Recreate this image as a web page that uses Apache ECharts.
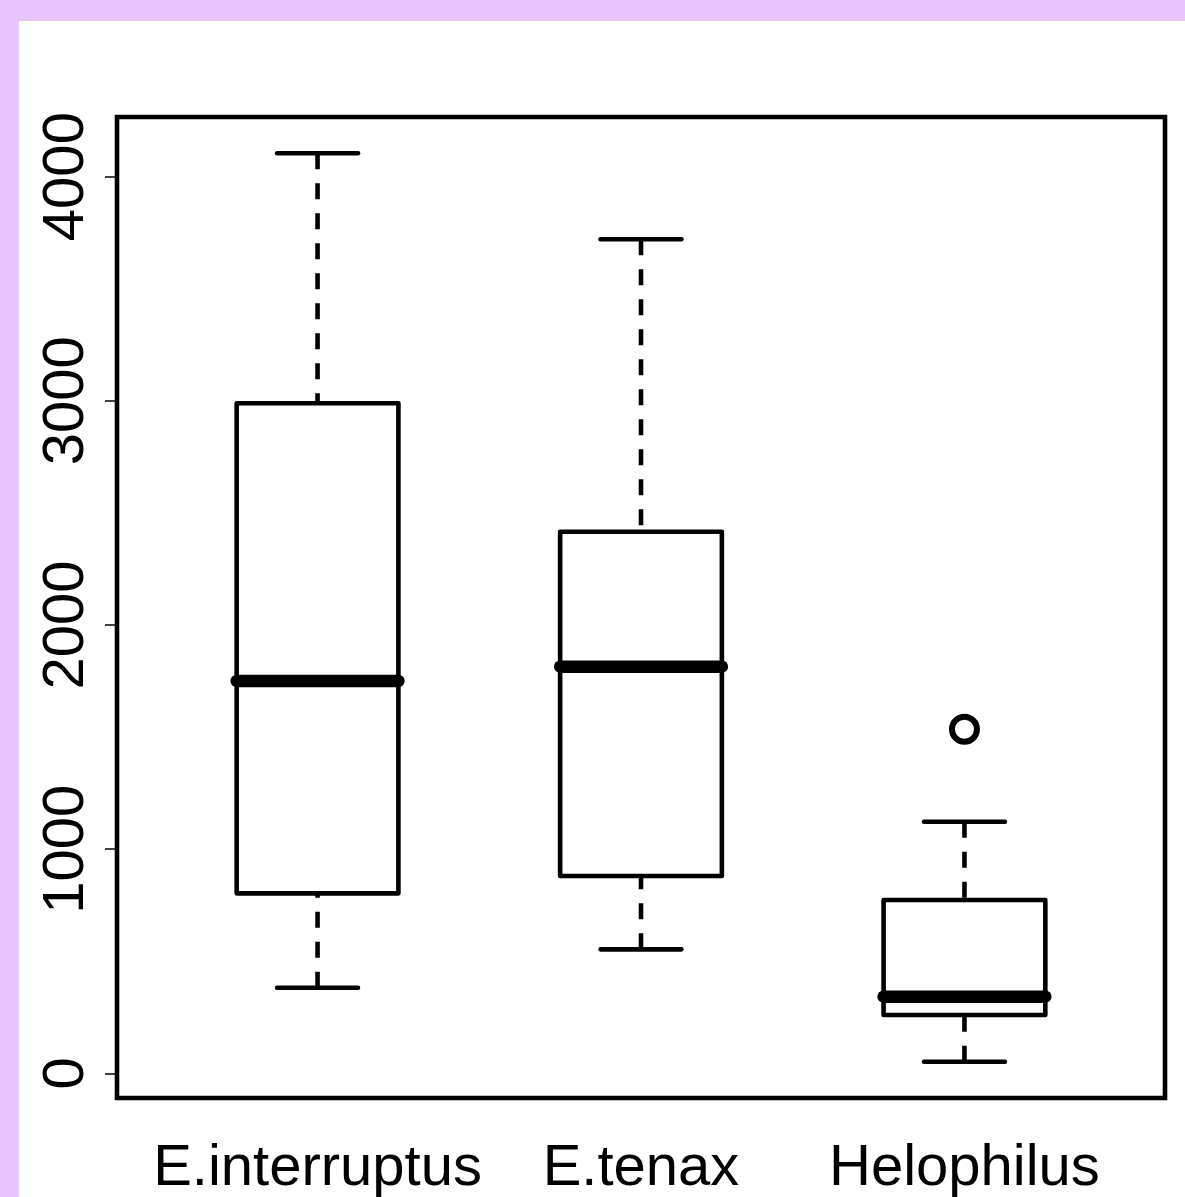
<!DOCTYPE html>
<html>
<head>
<meta charset="utf-8">
<script src="https://cdn.jsdelivr.net/npm/echarts@6/dist/echarts.min.js"></script>
<style>
html,body{margin:0;padding:0;background:#EAC4FC;}
#c{width:1185px;height:1197px;}
</style>
</head>
<body>
<div id="c"></div>
<script>
// ---- data ----
const categories = ['E.interruptus', 'E.tenax', 'Helophilus'];
const whiskerLow  = [382, 553, 52];
const quartile1   = [803, 880, 260];
const medians     = [1750, 1814, 342];
const quartile3   = [2989, 2416, 773];
const whiskerHigh = [4104, 3721, 1122];
const outlierGroup = [3];
const outlierValue = [1535];
const yTickValues = [0, 1000, 2000, 3000, 4000];
const xTickValues = [1, 2, 3];

const boxData = categories.map((c, i) => [i + 1, whiskerLow[i], quartile1[i], medians[i], quartile3[i], whiskerHigh[i]]);
const outlierData = outlierGroup.map((g, i) => [g, outlierValue[i]]);

const FONT = "'Liberation Sans', Arial, Helvetica, sans-serif";
const LW = 4.6;

function renderItem(params, api) {
  const x = api.value(0);
  const lo = api.coord([x, api.value(1)]);
  const q1 = api.coord([x, api.value(2)]);
  const md = api.coord([x, api.value(3)]);
  const q3 = api.coord([x, api.value(4)]);
  const hi = api.coord([x, api.value(5)]);
  const halfBox = api.size([0.5, 0], [x, 0])[0] / 2;
  const halfCap = api.size([0.25, 0], [x, 0])[0] / 2;
  const cx = lo[0];
  const dashStyle = {stroke: '#000', lineWidth: LW, lineDash: [16, 14], lineCap: 'butt', fill: null};
  const capStyle = {stroke: '#000', lineWidth: LW, lineCap: 'round', fill: null};
  return {
    type: 'group',
    children: [
      {type: 'line', shape: {x1: cx, y1: hi[1], x2: cx, y2: q3[1]}, style: dashStyle},
      {type: 'line', shape: {x1: cx, y1: lo[1], x2: cx, y2: q1[1]}, style: dashStyle},
      {type: 'line', shape: {x1: cx - halfCap, y1: hi[1], x2: cx + halfCap, y2: hi[1]}, style: capStyle},
      {type: 'line', shape: {x1: cx - halfCap, y1: lo[1], x2: cx + halfCap, y2: lo[1]}, style: capStyle},
      {type: 'rect', shape: {x: cx - halfBox, y: q3[1], width: 2 * halfBox, height: q1[1] - q3[1]},
        style: {stroke: '#000', lineWidth: LW, fill: '#fff', lineJoin: 'round'}},
      {type: 'line', shape: {x1: cx - halfBox, y1: md[1], x2: cx + halfBox, y2: md[1]},
        style: {stroke: '#000', lineWidth: 12.5, lineCap: 'round', fill: null}}
    ]
  };
}

const chart = echarts.init(document.getElementById('c'), null, {renderer: 'canvas'});
chart.setOption({
  animation: false,
  backgroundColor: '#EAC4FC',
  graphic: [{
    type: 'rect', z: -10, silent: true,
    shape: {x: 19, y: 21, width: 1166, height: 1176},
    style: {fill: '#ffffff'}
  }],
  grid: {
    left: 117, top: 117, right: 20, bottom: 99,
    containLabel: false, outerBoundsMode: 'none',
    show: true, borderColor: '#000', borderWidth: LW, backgroundColor: 'transparent'
  },
  xAxis: {
    type: 'value', min: 0.38, max: 3.62,
    axisLine: {show: false},
    axisTick: {show: false},
    splitLine: {show: false},
    axisLabel: {
      customValues: xTickValues,
      formatter: v => categories[Math.round(v) - 1],
      fontFamily: FONT, fontSize: 58, lineHeight: 58, color: '#000', margin: 42
    }
  },
  yAxis: {
    type: 'value', min: -110, max: 4266,
    axisLine: {show: false},
    splitLine: {show: false},
    axisTick: {show: true, customValues: yTickValues, length: 12, lineStyle: {color: '#000', width: 1.5}},
    axisLabel: {
      customValues: yTickValues,
      formatter: v => String(v),
      rotate: 90,
      fontFamily: FONT, fontSize: 58, lineHeight: 58, color: '#000', margin: 21
    }
  },
  series: [
    {
      type: 'custom', renderItem: renderItem, data: boxData, clip: false,
      encode: {x: 0, y: [1, 2, 3, 4, 5]}
    },
    {
      type: 'scatter', data: outlierData, symbol: 'circle', symbolSize: 25,
      itemStyle: {color: '#fff', borderColor: '#000', borderWidth: 6, opacity: 1}
    }
  ]
});
</script>
</body>
</html>
